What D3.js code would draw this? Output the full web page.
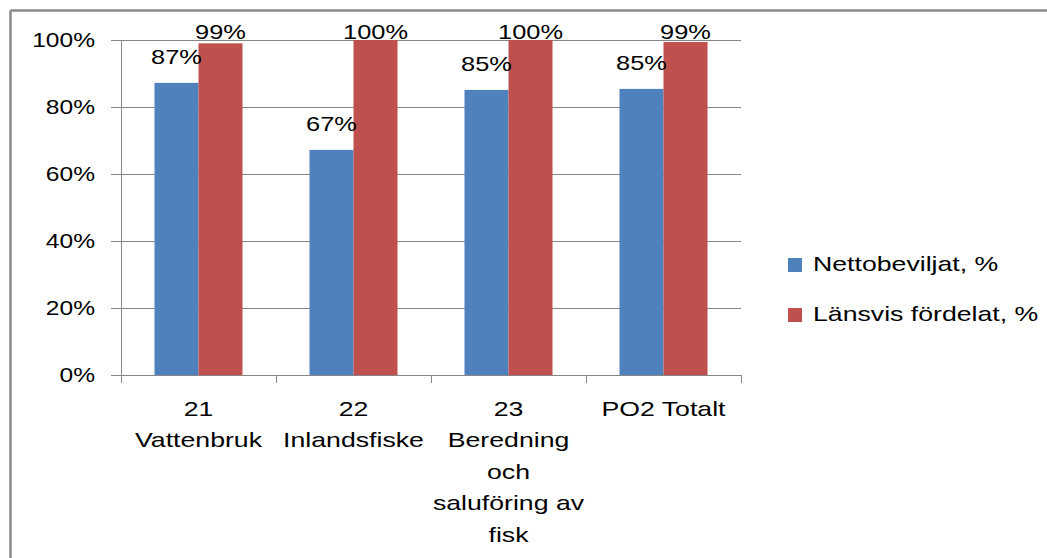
<!DOCTYPE html>
<html><head><meta charset="utf-8">
<script src="https://cdn.jsdelivr.net/npm/d3@7"></script>
<style>
body{margin:0;background:#fff}
svg{display:block}
text{font-family:"Liberation Sans",Arial,sans-serif;fill:#000}
</style>
</head><body><svg id="c" width="1047" height="558"></svg>
<script>
const categories = ["21 Vattenbruk","22 Inlandsfiske","23 Beredning och saluföring av fisk","PO2 Totalt"];
const categoryLines = [["21","Vattenbruk"],["22","Inlandsfiske"],["23","Beredning","och","saluföring av","fisk"],["PO2 Totalt"]];
const seriesNames = ["Nettobeviljat, %","Länsvis fördelat, %"];
const nettobeviljat = [0.872,0.672,0.851,0.854];
const lansvisFordelat = [0.990,1.000,1.000,0.994];
const yTicks = [0,0.2,0.4,0.6,0.8,1.0];
const colors = ["#4F81BD","#C0504D"];

const svg = d3.select("#c");
const W = 1047, H = 558;
const plot = {left:121, right:741, top:40, bottom:375};
const gridColor = "#868686";

// outer frame (top and left edges visible)
svg.append("line").attr("x1",10.5).attr("x2",W).attr("y1",10.5).attr("y2",10.5)
  .attr("stroke","#8a8a8a").attr("stroke-width",2.5);
svg.append("line").attr("x1",10.5).attr("x2",10.5).attr("y1",10.5).attr("y2",H)
  .attr("stroke","#8a8a8a").attr("stroke-width",2.5);

const y = d3.scaleLinear().domain([0,1]).range([plot.bottom, plot.top]);
const x = d3.scaleBand().domain(categories).range([plot.left, plot.right]).paddingInner(0).paddingOuter(0);
const x1 = d3.scaleBand().domain(seriesNames).range([0, x.bandwidth()]).paddingInner(0).paddingOuter(0.761);

// gridlines
const grid = svg.append("g").attr("transform",`translate(${plot.left},0)`)
  .call(d3.axisLeft(y).tickValues(yTicks.filter(d=>d>0)).tickSize(-(plot.right-plot.left)).tickFormat(""));
grid.select(".domain").remove();
grid.selectAll("line").attr("stroke",gridColor).attr("shape-rendering","crispEdges");

// bars
const data = categories.map((c,i)=>({cat:c, values:[nettobeviljat[i], lansvisFordelat[i]]}));
const groups = svg.append("g").selectAll("g").data(data).join("g")
  .attr("transform",d=>`translate(${x(d.cat)},0)`);
groups.selectAll("rect").data(d=>d.values.map((v,j)=>({s:seriesNames[j], v, j})))
  .join("rect")
  .attr("x",d=>x1(d.s)).attr("width",x1.bandwidth())
  .attr("y",d=>y(d.v)).attr("height",d=>y(0)-y(d.v))
  .attr("fill",d=>colors[d.j]);

// data labels
const fmt = d3.format(".0%");
groups.selectAll("text.lbl").data(d=>d.values.map((v,j)=>({s:seriesNames[j], v, j})))
  .join("text").attr("class","lbl")
  .attr("text-anchor","middle")
  .attr("font-size",21)
  .attr("transform",d=>`translate(${x1(d.s)+x1.bandwidth()/2},${Math.max(y(d.v)-19,38.5)}) scale(1.21,1)`)
  .text(d=>fmt(d.v));

// y axis
const yAxis = svg.append("g").attr("transform",`translate(${plot.left},0)`)
  .call(d3.axisLeft(y).tickValues(yTicks).tickSize(10).tickFormat(d3.format(".0%")));
yAxis.select(".domain").attr("stroke",gridColor).attr("shape-rendering","crispEdges");
yAxis.selectAll(".tick line").attr("stroke",gridColor).attr("shape-rendering","crispEdges");
yAxis.selectAll(".tick text")
  .attr("x",null).attr("dy",null)
  .attr("font-size",21).attr("font-family",null)
  .attr("transform","translate(-26,6) scale(1.17,1)");

// x axis boundary ticks
const xb = d3.scaleLinear().domain([0,categories.length]).range([plot.left, plot.right]);
const xAxisTicks = svg.append("g").attr("transform",`translate(0,${plot.bottom})`)
  .call(d3.axisBottom(xb).tickValues(d3.range(categories.length+1)).tickSize(8).tickSizeOuter(0).tickFormat(""));
xAxisTicks.select(".domain").attr("stroke",gridColor).attr("shape-rendering","crispEdges");
xAxisTicks.selectAll(".tick line").attr("stroke",gridColor).attr("shape-rendering","crispEdges");

// x category labels
const xAxis = svg.append("g").attr("transform",`translate(0,${plot.bottom})`)
  .call(d3.axisBottom(x).tickSize(0).tickFormat(""));
xAxis.select(".domain").remove();
xAxis.selectAll(".tick").each(function(d,i){
  const t = d3.select(this);
  t.selectAll("text").remove();
  categoryLines[i].forEach((line,k)=>{
    t.append("text")
      .attr("text-anchor","middle")
      .attr("font-size",21)
      .attr("transform",`translate(0,${41 + k*31.4}) scale(1.27,1)`)
      .text(line);
  });
});

// legend
const legend = svg.append("g").attr("transform","translate(788,258)");
const li = legend.selectAll("g").data(seriesNames).join("g")
  .attr("transform",(d,i)=>`translate(0,${i*50})`);
li.append("rect").attr("width",14).attr("height",14).attr("fill",(d,i)=>colors[i]);
li.append("text").attr("font-size",21)
  .attr("transform","translate(25,13) scale(1.27,1)")
  .text(d=>d);
</script>
</body></html>
